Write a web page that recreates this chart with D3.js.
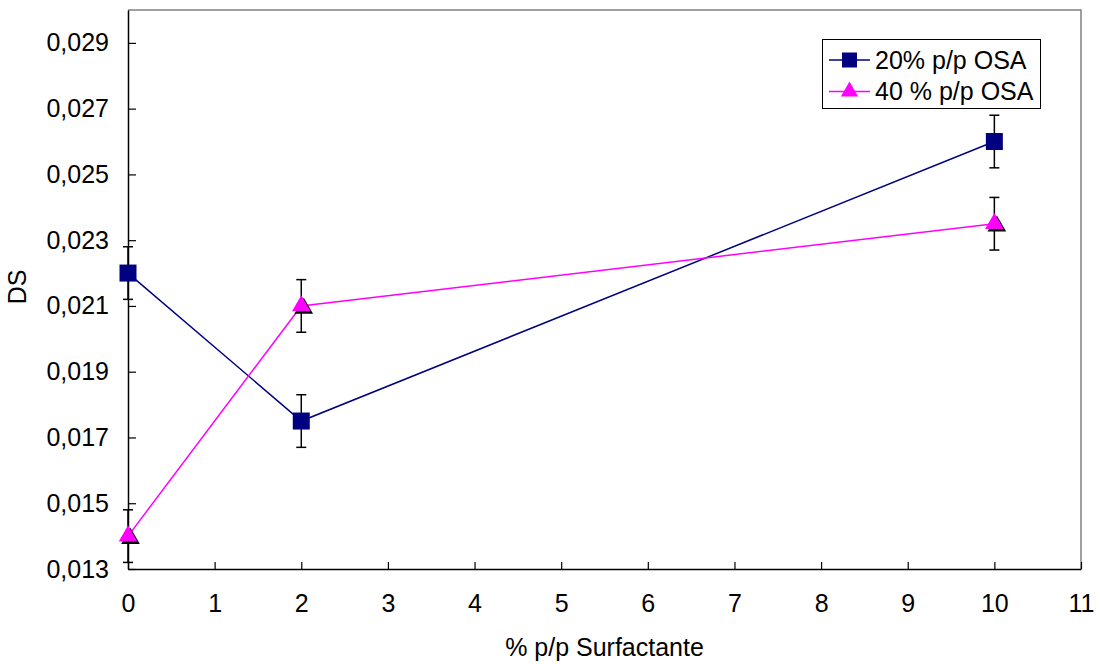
<!DOCTYPE html>
<html>
<head>
<meta charset="utf-8">
<script src="https://cdn.jsdelivr.net/npm/d3@7"></script>
<style>
  html, body { margin: 0; padding: 0; background: #fff; }
  svg { display: block; font-family: "Liberation Sans", Arial, sans-serif; }
</style>
</head>
<body>
<svg id="chart" width="1100" height="664"></svg>
<script>
// Surfactant concentration (% p/p)
const surfactant = [0, 2, 10];
// Degree of substitution for each OSA level
const ds20 = [0.0220, 0.0175, 0.0260];
const ds40 = [0.0140, 0.0210, 0.0235];
// Standard deviation shown as error bars
const err20 = [0.0008, 0.0008, 0.0008];
const err40 = [0.0008, 0.0008, 0.0008];
const seriesNames = ["20% p/p OSA", "40 % p/p OSA"];

const xTicks = [0, 1, 2, 3, 4, 5, 6, 7, 8, 9, 10, 11];
const yTicks = [0.013, 0.015, 0.017, 0.019, 0.021, 0.023, 0.025, 0.027, 0.029];

const svg = d3.select("#chart");
const plotLeft = 128, plotRight = 1081, plotTop = 10, plotBottom = 569;
const fontSize = 25;

const x = d3.scaleLinear().domain([0, 11]).range([plotLeft, plotRight]);
const y = d3.scaleLinear().domain([0.013, 0.030]).range([plotBottom, plotTop]);

const fmt = d => d.toFixed(3).replace(".", ",");

// Frame: grey top/right edges
svg.append("path")
  .attr("d", `M${plotLeft},${plotTop}H${plotRight}V${plotBottom}`)
  .attr("fill", "none").attr("stroke", "#808080").attr("stroke-width", 1.5);

// Y axis (ticks pointing inward)
const yAxis = svg.append("g")
  .attr("transform", `translate(${plotLeft},0)`)
  .call(d3.axisLeft(y).tickValues(yTicks).tickSizeInner(-8).tickSizeOuter(0).tickPadding(19).tickFormat(fmt));
yAxis.select(".domain").attr("stroke", "#000").attr("stroke-width", 1.5);
yAxis.selectAll(".tick line").attr("stroke", "#000").attr("stroke-width", 1.2);
yAxis.selectAll(".tick text").attr("font-size", fontSize).attr("fill", "#000")
  .attr("font-family", "Liberation Sans, Arial, sans-serif");

// X axis (ticks pointing inward)
const xAxis = svg.append("g")
  .attr("transform", `translate(0,${plotBottom})`)
  .call(d3.axisBottom(x).tickValues(xTicks).tickSizeInner(-7).tickSizeOuter(0).tickPadding(25).tickFormat(d3.format("d")));
xAxis.select(".domain").attr("stroke", "#000").attr("stroke-width", 1.5);
xAxis.selectAll(".tick line").attr("stroke", "#000").attr("stroke-width", 1.2);
xAxis.selectAll(".tick text").attr("font-size", fontSize).attr("fill", "#000")
  .attr("font-family", "Liberation Sans, Arial, sans-serif");

// Axis titles
svg.append("text")
  .attr("x", (plotLeft + plotRight) / 2).attr("y", 656)
  .attr("text-anchor", "middle").attr("font-size", fontSize).attr("fill", "#000")
  .text("% p/p Surfactante");
svg.append("text")
  .attr("transform", "translate(26,287) rotate(-90)")
  .attr("text-anchor", "middle").attr("font-size", fontSize).attr("fill", "#000")
  .text("DS");

const series = [
  { name: seriesNames[0], vals: ds20, err: err20, color: "#000080", shape: "square" },
  { name: seriesNames[1], vals: ds40, err: err40, color: "#FF00FF", shape: "triangle" }
];

const line = d3.line().x(d => x(d[0])).y(d => y(d[1]));
const sq = d3.symbol().type(d3.symbolSquare).size(17 * 17);
const tri = d3.symbol().type(d3.symbolTriangle).size(150);

function drawMarker(g, shape, color, cx, cy) {
  if (shape === "square") {
    g.append("path").attr("d", sq()).attr("transform", `translate(${cx},${cy})`).attr("fill", color);
  } else {
    // triangle with a dark drop shadow
    g.append("path").attr("d", tri()).attr("transform", `translate(${cx + 2.5},${cy + 2.5})`).attr("fill", "#000");
    g.append("path").attr("d", tri()).attr("transform", `translate(${cx},${cy})`).attr("fill", color);
  }
}

series.forEach(s => {
  const pts = surfactant.map((v, i) => [v, s.vals[i], s.err[i]]);
  const g = svg.append("g");
  // error bars
  pts.forEach(p => {
    const cx = x(p[0]);
    const y1 = y(p[1] + p[2]), y2 = y(p[1] - p[2]);
    g.append("line").attr("x1", cx).attr("x2", cx).attr("y1", y1).attr("y2", y2)
      .attr("stroke", "#000").attr("stroke-width", 1.5);
    [y1, y2].forEach(yy => g.append("line").attr("x1", cx - 5).attr("x2", cx + 5)
      .attr("y1", yy).attr("y2", yy).attr("stroke", "#000").attr("stroke-width", 1.5));
  });
});

series.forEach(s => {
  const pts = surfactant.map((v, i) => [v, s.vals[i]]);
  const g = svg.append("g");
  g.append("path").attr("d", line(pts)).attr("fill", "none")
    .attr("stroke", s.color).attr("stroke-width", 1.5);
  pts.forEach(p => drawMarker(g, s.shape, s.color, x(p[0]), y(p[1])));
});

// Legend
const leg = svg.append("g");
leg.append("rect").attr("x", 822.5).attr("y", 39.5).attr("width", 218).attr("height", 69)
  .attr("fill", "#fff").attr("stroke", "#000").attr("stroke-width", 1);
series.forEach((s, i) => {
  const cy = 60 + i * 31.5;
  leg.append("line").attr("x1", 829).attr("x2", 870).attr("y1", cy).attr("y2", cy)
    .attr("stroke", s.color).attr("stroke-width", 1.5);
  if (s.shape === "square") {
    leg.append("path").attr("d", d3.symbol().type(d3.symbolSquare).size(15 * 15)())
      .attr("transform", `translate(849.5,${cy})`).attr("fill", s.color);
  } else {
    leg.append("path").attr("d", d3.symbol().type(d3.symbolTriangle).size(130)())
      .attr("transform", `translate(849.5,${cy})`).attr("fill", s.color);
  }
  leg.append("text").attr("x", 875).attr("y", cy).attr("dy", "0.35em")
    .attr("font-size", fontSize).attr("fill", "#000").text(s.name);
});
</script>
</body>
</html>
